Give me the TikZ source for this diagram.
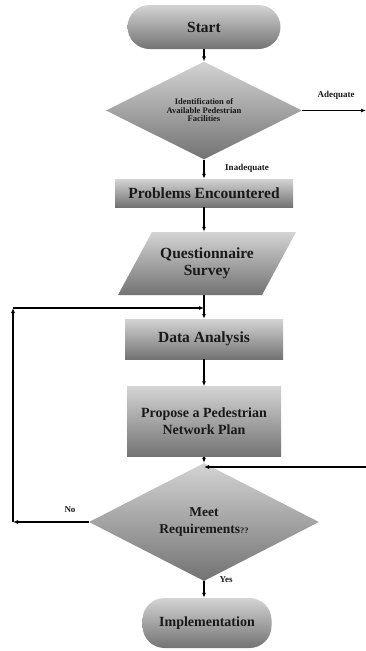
\documentclass[tikz,border=0pt]{standalone}
\usepackage{fontspec}
\setmainfont{Liberation Serif}
\usetikzlibrary{shapes.geometric,arrows.meta}
\begin{document}
\begin{tikzpicture}[x=1pt,y=-1pt,
  every node/.style={font=\bfseries, text=black!90, inner sep=0pt, align=center},
  shadefill/.style={top color=black!17, bottom color=black!55, draw=none},
  term/.style={shadefill, rectangle, rounded corners=22pt},
  box/.style={shadefill, rectangle},
  dec/.style={shadefill, diamond},
  lbl/.style={font=\bfseries\fontsize{9}{10}\selectfont},
  arr/.style={line width=1.1pt, -{Latex[length=5pt,width=4pt]}},
  ln/.style={line width=1.1pt}]
\useasboundingbox (0,0) rectangle (366,651);

\node[term, minimum width=153pt, minimum height=44pt, font=\bfseries\fontsize{15.5}{17}\selectfont] (start) at (204,27) {Start};
\node[dec, minimum width=196pt, minimum height=95pt, font=\bfseries\fontsize{8.5}{8.5}\selectfont] (d1) at (204,110.5) {Identification of\\Available Pedestrian\\Facilities};
\node[box, minimum width=178pt, minimum height=28pt, font=\bfseries\fontsize{15.5}{17}\selectfont] (prob) at (204,193) {Problems Encountered};
\shade[shadefill] (152,232) -- (296,232) -- (262,295) -- (118,295) -- cycle;
\node[minimum width=144pt, minimum height=63pt, font=\bfseries\fontsize{15.5}{17}\selectfont] (q) at (207,263.5) {Questionnaire\\Survey};
\node[box, minimum width=158pt, minimum height=40pt, font=\bfseries\fontsize{15.5}{17}\selectfont] (data) at (204,339) {Data Analysis};
\node[box, minimum width=154pt, minimum height=70pt, font=\bfseries\fontsize{14}{17}\selectfont] (prop) at (204,421.5) {Propose a Pedestrian\\Network Plan};
\node[dec, minimum width=230pt, minimum height=83pt, font=\bfseries\fontsize{13.5}{17}\selectfont] (d2) at (204,522) {Meet\\Requirements{\fontsize{8.5}{8.5}\selectfont ??}};
\node[term, minimum width=129pt, minimum height=50pt, font=\bfseries\fontsize{14}{16}\selectfont] (impl) at (207,623) {Implementation};

\coordinate (aout) at (366,110.5);
\coordinate (nocorner) at (13,522);
\coordinate (loopcorner) at (13,308);
\coordinate (merge) at (204,308);
\coordinate (rin) at (366,467);
\coordinate (rmerge) at (204,467);

\draw[arr] (start.south) -- (d1.north);
\draw[arr] (d1.east) -- (aout);
\draw[arr] (d1.south) -- (prob.north);
\draw[arr] (prob.south) -- (prob.south |- q.north);
\draw[arr] (prob.south |- q.south) -- (data.north);
\draw[arr] (data.south) -- (prop.north);
\draw[arr] (prop.south) -- (d2.north);
\draw[arr] (rin) -- (rmerge);
\draw[arr] (d2.west) -- (nocorner);
\draw[arr] (nocorner) -- (loopcorner);
\draw[arr] (loopcorner) -- (merge);
\draw[arr] (d2.south) -- (impl.north -| d2.south);

\node[lbl] (ladeq) at (336,95) {Adequate};
\node[lbl] (linad) at (247,168) {Inadequate};
\node[lbl] (lno) at (70,510) {No};
\node[lbl] (lyes) at (226,580) {Yes};
\end{tikzpicture}
\end{document}
